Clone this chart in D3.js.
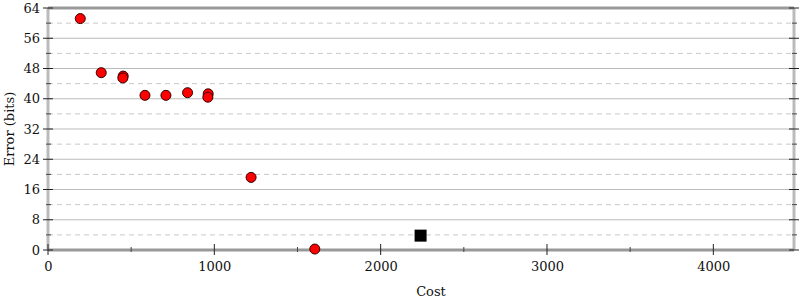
<!DOCTYPE html>
<html>
<head>
<meta charset="utf-8">
<script src="https://cdn.jsdelivr.net/npm/d3@7"></script>
<style>
  body { margin: 0; background: #fff; }
  text { font-family: "DejaVu Serif", serif; font-size: 13px; fill: #111; }
</style>
</head>
<body>
<svg id="chart" width="800" height="300"></svg>
<script>
// alternatives found (cost, error)
var costs  = [194, 320, 452, 450, 583, 709, 839, 963, 961, 1221, 1604];
var errors = [61.2, 46.9, 46.0, 45.5, 40.9, 40.9, 41.6, 41.3, 40.4, 19.2, 0.25];
// starting program
var startCost = [2240];
var startError = [3.8];

var xMajor = [0, 1000, 2000, 3000, 4000];
var xMinor = [500, 1500, 2500, 3500];
var yMajor = [0, 8, 16, 24, 32, 40, 48, 56, 64];
var yMinor = [4, 12, 20, 28, 36, 44, 52, 60];

var plotLeft = 48, plotRight = 794, plotTop = 8, plotBottom = 250;

var x = d3.scaleLinear().domain([0, 4485]).range([plotLeft, plotRight]);
var y = d3.scaleLinear().domain([0, 64]).range([plotBottom, plotTop]);

var svg = d3.select("#chart");

// grid
svg.selectAll(".grid-major")
  .data(yMajor.filter(function(d) { return d > 0 && d < 64; }))
  .enter().append("line")
  .attr("x1", plotLeft).attr("x2", plotRight)
  .attr("y1", function(d) { return y(d); })
  .attr("y2", function(d) { return y(d); })
  .style("stroke", "#bbb")
  .style("stroke-width", 1);

svg.selectAll(".grid-minor")
  .data(yMinor)
  .enter().append("line")
  .attr("x1", plotLeft).attr("x2", plotRight)
  .attr("y1", function(d) { return y(d); })
  .attr("y2", function(d) { return y(d); })
  .style("stroke", "#c8c8c8")
  .style("stroke-width", 1)
  .style("stroke-dasharray", "5,4");

// frame
svg.append("line")
  .attr("x1", plotLeft).attr("x2", plotLeft).attr("y1", plotTop).attr("y2", plotBottom)
  .style("stroke", "#bbb").style("stroke-width", 3);
svg.append("line")
  .attr("x1", plotRight).attr("x2", plotRight).attr("y1", plotTop).attr("y2", plotBottom)
  .style("stroke", "#bbb").style("stroke-width", 3);
svg.append("line")
  .attr("x1", plotLeft).attr("x2", plotRight).attr("y1", plotTop).attr("y2", plotTop)
  .style("stroke", "#999").style("stroke-width", 3);
svg.append("line")
  .attr("x1", plotLeft).attr("x2", plotRight).attr("y1", plotBottom).attr("y2", plotBottom)
  .style("stroke", "#999").style("stroke-width", 3);

// x axis
var xAxis = d3.axisBottom(x).tickValues(xMajor).tickSize(0).tickPadding(12).tickFormat(d3.format("d"));
svg.append("g")
  .attr("transform", "translate(0," + plotBottom + ")")
  .call(xAxis)
  .call(function(g) { g.select(".domain").remove(); });

svg.selectAll(".xtick")
  .data(xMajor)
  .enter().append("line")
  .attr("x1", function(d) { return x(d); })
  .attr("x2", function(d) { return x(d); })
  .attr("y1", plotBottom - 6).attr("y2", plotBottom + 5)
  .style("stroke", "#222");
svg.selectAll(".xtick-minor")
  .data(xMinor)
  .enter().append("line")
  .attr("x1", function(d) { return x(d); })
  .attr("x2", function(d) { return x(d); })
  .attr("y1", plotBottom - 3).attr("y2", plotBottom + 2)
  .style("stroke", "#444");

// y axis
var yAxis = d3.axisLeft(y).tickValues(yMajor).tickSize(0).tickPadding(8);
svg.append("g")
  .attr("transform", "translate(" + plotLeft + ",0)")
  .call(yAxis)
  .call(function(g) { g.select(".domain").remove(); });

[plotLeft, plotRight].forEach(function(ax) {
  svg.selectAll(null)
    .data(yMajor)
    .enter().append("line")
    .attr("x1", ax - 5).attr("x2", ax + 5)
    .attr("y1", function(d) { return y(d); })
    .attr("y2", function(d) { return y(d); })
    .style("stroke", "#222");
  svg.selectAll(null)
    .data(yMinor)
    .enter().append("line")
    .attr("x1", ax - 2).attr("x2", ax + 3)
    .attr("y1", function(d) { return y(d); })
    .attr("y2", function(d) { return y(d); })
    .style("stroke", "#444");
});

svg.selectAll("g.tick text").style("font-family", "DejaVu Serif").style("font-size", "13px").style("fill", "#111");

// labels
svg.append("text")
  .attr("x", 431).attr("y", 296)
  .style("text-anchor", "middle")
  .text("Cost");
svg.append("text")
  .attr("transform", "translate(14," + ((plotTop + plotBottom) / 2) + ") rotate(-90)")
  .style("text-anchor", "middle")
  .text("Error (bits)");

// points
svg.selectAll(".pt")
  .data(costs)
  .enter().append("circle")
  .attr("cx", function(d) { return x(d); })
  .attr("cy", function(d, i) { return y(errors[i]); })
  .attr("r", 5)
  .style("fill", "#f00")
  .style("stroke", "#300")
  .style("stroke-width", 1);

svg.selectAll(".start")
  .data(startCost)
  .enter().append("rect")
  .attr("x", function(d) { return x(d) - 6; })
  .attr("y", function(d, i) { return y(startError[i]) - 6; })
  .attr("width", 12).attr("height", 12)
  .style("fill", "#000");
</script>
</body>
</html>
